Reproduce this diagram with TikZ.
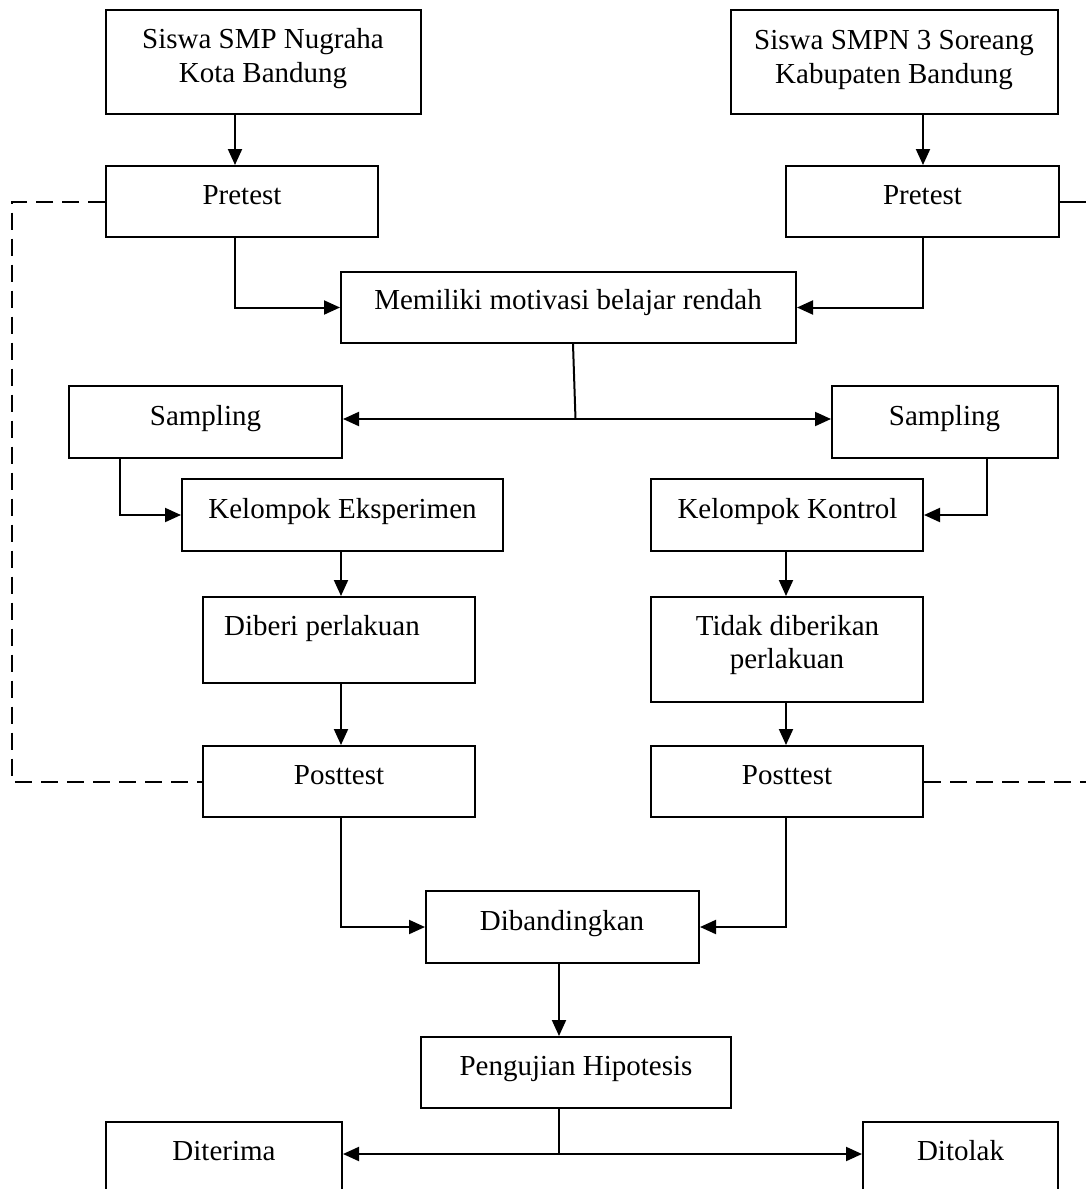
\documentclass[tikz,border=0pt]{standalone}
\usepackage{fontspec}
\setmainfont{Liberation Serif}
\usetikzlibrary{arrows.meta}
\begin{document}
\begin{tikzpicture}[x={(1pt,0pt)}, y={(0pt,-1pt)},
  box/.style={draw, line width=2pt, inner sep=0pt},
  txt/.style={inner sep=0pt, anchor=base, font=\fontsize{29}{34}\selectfont},
  conn/.style={line width=2pt},
  arr/.style={line width=2pt, -{Triangle[length=16pt,width=14pt]}},
  dashline/.style={line width=2pt, dash pattern=on 17pt off 9pt}]
\useasboundingbox (0,0) rectangle (1086,1189);
\clip (0,0) rectangle (1086,1189);

% boxes
\node[box, minimum width=315pt, minimum height=104pt] (b1) at (263.5,62) {};
\node[box, minimum width=327pt, minimum height=104pt] (b2) at (894.5,62) {};
\node[box, minimum width=272pt, minimum height=71pt] (pre1) at (242,201.5) {};
\node[box, minimum width=273pt, minimum height=71pt] (pre2) at (922.5,201.5) {};
\node[box, minimum width=455pt, minimum height=71pt] (mem) at (568.5,307.5) {};
\node[box, minimum width=273pt, minimum height=72pt] (samp1) at (205.5,422) {};
\node[box, minimum width=226pt, minimum height=72pt] (samp2) at (945,422) {};
\node[box, minimum width=321pt, minimum height=72pt] (ke) at (342.5,515) {};
\node[box, minimum width=272pt, minimum height=72pt] (kk) at (787,515) {};
\node[box, minimum width=272pt, minimum height=86pt] (dib) at (339,640) {};
\node[box, minimum width=272pt, minimum height=105pt] (tid) at (787,649.5) {};
\node[box, minimum width=272pt, minimum height=71pt] (post1) at (339,781.5) {};
\node[box, minimum width=272pt, minimum height=71pt] (post2) at (787,781.5) {};
\node[box, minimum width=273pt, minimum height=72pt] (band) at (562.5,927) {};
\node[box, minimum width=310pt, minimum height=71pt] (uji) at (576,1072.5) {};
\node[box, minimum width=236pt, minimum height=108pt] (ter) at (224,1176) {};
\node[box, minimum width=195pt, minimum height=108pt] (tol) at (960.5,1176) {};

% texts
\node[txt] (t1a) at (263,48) {Siswa SMP Nugraha};
\node[txt] (t1b) at (263,82) {Kota Bandung};
\node[txt] (t2a) at (894,49) {Siswa SMPN 3 Soreang};
\node[txt] (t2b) at (894,83) {Kabupaten Bandung};
\node[txt] (tpre1) at (242,204) {Pretest};
\node[txt] (tpre2) at (922.5,204) {Pretest};
\node[txt] (tmem) at (568,309) {Memiliki motivasi belajar rendah};
\node[txt] (ts1) at (205.5,425) {Sampling};
\node[txt] (ts2) at (944.5,425) {Sampling};
\node[txt] (tke) at (342.5,518) {Kelompok Eksperimen};
\node[txt] (tkk) at (787.5,518) {Kelompok Kontrol};
\node[txt] (tdib) at (322,635) {Diberi perlakuan};
\node[txt] (ttida) at (787.5,635) {Tidak diberikan};
\node[txt] (ttidb) at (787,668) {perlakuan};
\node[txt] (tpo1) at (339,784) {Posttest};
\node[txt] (tpo2) at (787,784) {Posttest};
\node[txt] (tband) at (562,930) {Dibandingkan};
\node[txt] (tuji) at (576,1075) {Pengujian Hipotesis};
\node[txt] (tter) at (224,1160) {Diterima};
\node[txt] (ttol) at (960.5,1160) {Ditolak};

% helper coordinates
\coordinate (xL) at (235,0);
\coordinate (xR) at (923,0);
\coordinate (xM) at (573,0);
\coordinate (sj) at (575.5,419);
\coordinate (xS1) at (120,0);
\coordinate (xS2) at (987,0);
\coordinate (xA) at (341,0);
\coordinate (xB) at (786,0);
\coordinate (xC) at (559,0);
\coordinate (hj) at (559,1154);
\coordinate (xD) at (12,0);
\coordinate (xE) at (1100,0);

% connectors
\draw[arr] (b1.south -| xL) -- (pre1.north -| xL);
\draw[arr] (b2.south -| xR) -- (pre2.north -| xR);
\draw[arr] (pre1.south -| xL) |- (mem.west);
\draw[arr] (pre2.south -| xR) |- (mem.east);
\draw[conn] (mem.south -| xM) -- (sj);
\draw[arr] (sj) -- (samp1.east |- sj);
\draw[arr] (sj) -- (samp2.west |- sj);
\draw[arr] (samp1.south -| xS1) |- (ke.west);
\draw[arr] (samp2.south -| xS2) |- (kk.east);
\draw[arr] (ke.south -| xA) -- (dib.north -| xA);
\draw[arr] (dib.south -| xA) -- (post1.north -| xA);
\draw[arr] (kk.south -| xB) -- (tid.north -| xB);
\draw[arr] (tid.south -| xB) -- (post2.north -| xB);
\draw[arr] (post1.south -| xA) |- (band.west);
\draw[arr] (post2.south -| xB) |- (band.east);
\draw[arr] (band.south -| xC) -- (uji.north -| xC);
\draw[conn] (uji.south -| xC) -- (hj);
\draw[arr] (hj) -- (ter.east |- hj);
\draw[arr] (hj) -- (tol.west |- hj);

% dashed links
\draw[dashline] (pre1.west) -- (pre1.west -| xD) -- (post1.west -| xD) -- (post1.west);
\draw[conn] (pre2.east) -- (pre2.east -| xE);
\draw[dashline] (post2.east) -- (post2.east -| xE);
\end{tikzpicture}
\end{document}
